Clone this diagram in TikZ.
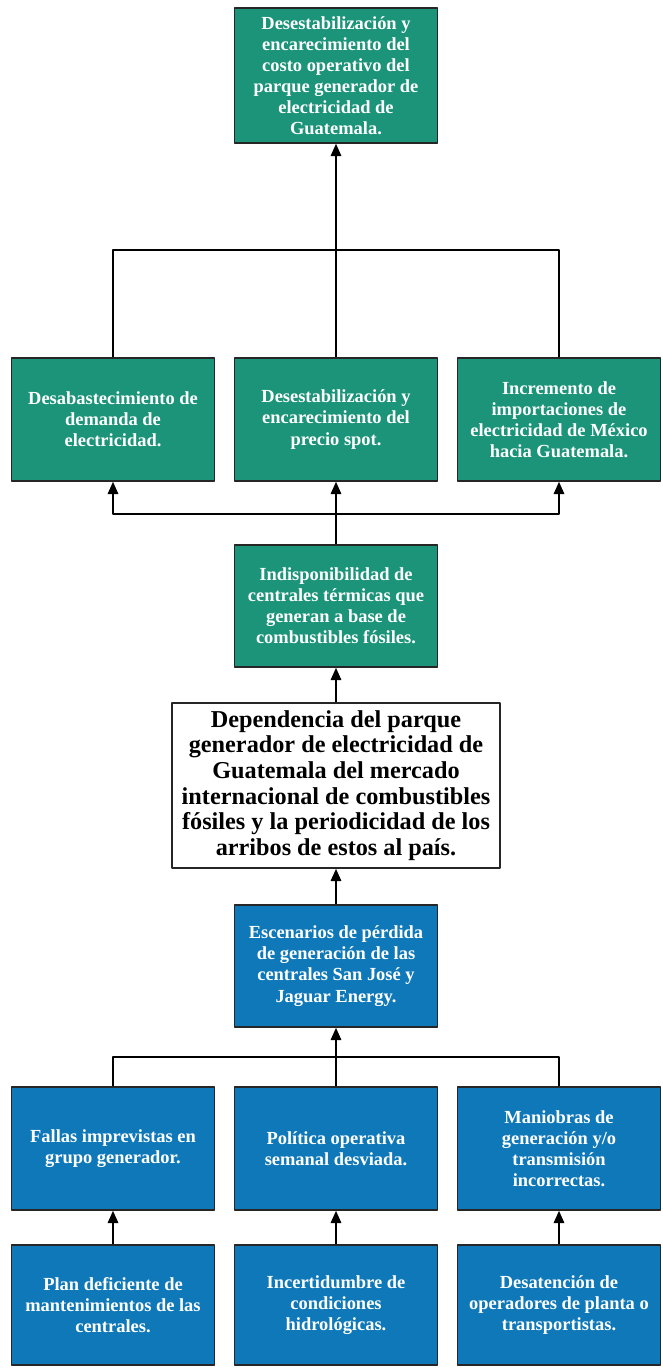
\documentclass[tikz,border=0pt]{standalone}
\usepackage{fontspec}
\setmainfont{Liberation Serif}
\usetikzlibrary{arrows.meta}
\definecolor{verde}{RGB}{27,148,121}
\definecolor{azul}{RGB}{15,120,184}
\tikzset{
  caja/.style={draw=black!85, line width=0.9pt, minimum width=4.06cm, align=center,
    text=white, font=\fontsize{10.5}{12}\selectfont\bfseries, inner sep=2pt},
  efecto/.style={caja, fill=verde},
  causa/.style={caja, fill=azul},
  problema/.style={draw=black!85, line width=0.9pt, fill=white, minimum width=6.56cm,
    minimum height=3.3cm, align=center, font=\fontsize{13.8}{14.6}\selectfont\bfseries, inner sep=2pt},
  flecha/.style={line width=0.9pt}
}
\begin{document}
\begin{tikzpicture}[>={Triangle[length=7pt,width=6pt]}, line join=round]
  \useasboundingbox (0,0) rectangle (13.26,-27.36);
  % efectos
  \node[efecto, minimum height=2.7cm] (top) at (6.72,-1.51)
    {Desestabilización y\\encarecimiento del\\costo operativo del\\parque generador de\\electricidad de\\Guatemala.};
  \node[efecto, minimum height=2.46cm] (dem) at (2.26,-8.39)
    {Desabastecimiento de\\demanda de\\electricidad.};
  \node[efecto, minimum height=2.46cm] (pre) at (6.72,-8.39)
    {Desestabilización y\\encarecimiento del\\precio spot.};
  \node[efecto, minimum height=2.46cm] (imp) at (11.18,-8.39)
    {Incremento de\\importaciones de\\electricidad de México\\hacia Guatemala.};
  \node[efecto, minimum height=2.44cm] (ind) at (6.72,-12.12)
    {Indisponibilidad de\\centrales térmicas que\\generan a base de\\combustibles fósiles.};
  % problema central
  \node[problema] (dep) at (6.72,-15.71)
    {Dependencia del parque\\generador de electricidad de\\Guatemala del mercado\\internacional de combustibles\\fósiles y la periodicidad de los\\arribos de estos al país.};
  % causas
  \node[causa, minimum height=2.44cm] (esc) at (6.72,-19.32)
    {Escenarios de pérdida\\de generación de las\\centrales San José y\\Jaguar Energy.};
  \node[causa, minimum height=2.46cm] (fal) at (2.26,-22.97)
    {Fallas imprevistas en\\grupo generador.};
  \node[causa, minimum height=2.46cm] (pol) at (6.72,-22.97)
    {Política operativa\\semanal desviada.};
  \node[causa, minimum height=2.46cm] (man) at (11.18,-22.97)
    {Maniobras de\\generación y/o\\transmisión\\incorrectas.};
  \node[causa, minimum height=2.4cm] (pla) at (2.26,-26.1)
    {Plan deficiente de\\mantenimientos de las\\centrales.};
  \node[causa, minimum height=2.4cm] (inc) at (6.72,-26.1)
    {Incertidumbre de\\condiciones\\hidrológicas.};
  \node[causa, minimum height=2.4cm] (des) at (11.18,-26.1)
    {Desatención de\\operadores de planta o\\transportistas.};
  % uniones
  \coordinate (j1) at (6.72,-5.0);
  \coordinate (j2) at (6.72,-10.28);
  \coordinate (j3) at (6.72,-21.14);
  \draw[flecha] (dem.north) |- (j1) -| (imp.north);
  \draw[flecha,->] (pre.north) -- (top.south);
  \draw[flecha,->] (ind.north) -- (pre.south);
  \draw[flecha,->] (j2) -| (dem.south);
  \draw[flecha,->] (j2) -| (imp.south);
  \draw[flecha,->] (dep.north) -- (ind.south);
  \draw[flecha,->] (esc.north) -- (dep.south);
  \draw[flecha] (fal.north) |- (j3) -| (man.north);
  \draw[flecha,->] (pol.north) -- (esc.south);
  \draw[flecha,->] (pla.north) -- (fal.south);
  \draw[flecha,->] (inc.north) -- (pol.south);
  \draw[flecha,->] (des.north) -- (man.south);
\end{tikzpicture}
\end{document}
